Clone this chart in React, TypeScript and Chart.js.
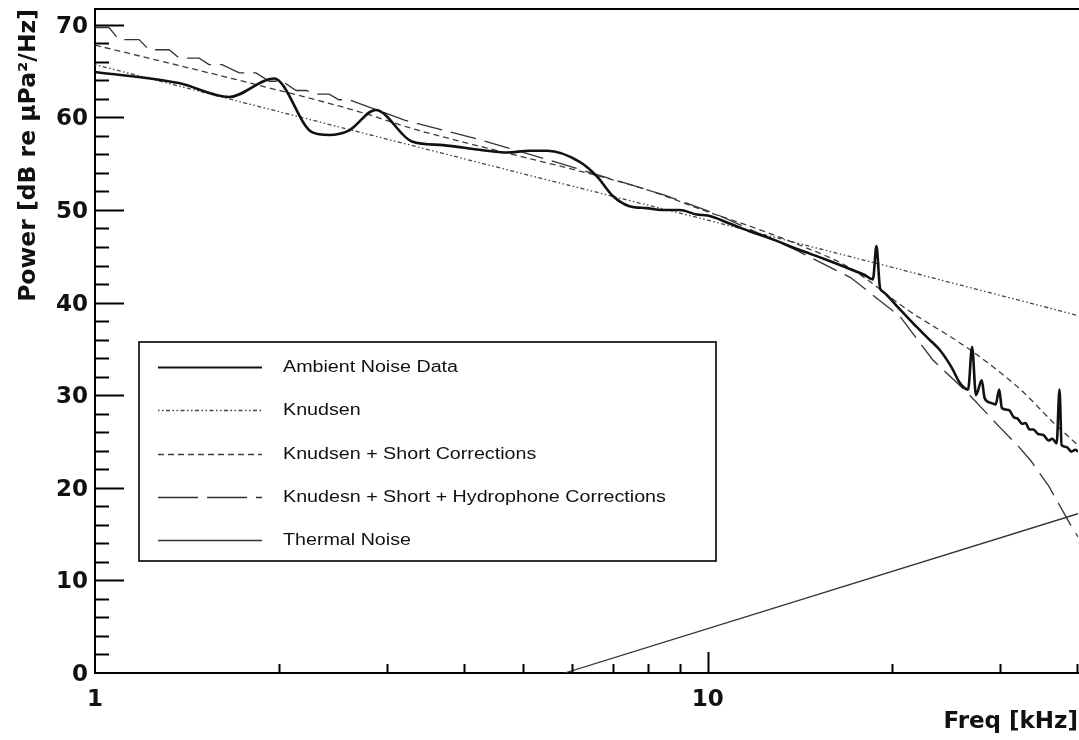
import React, { useEffect, useRef } from "react";
import { Chart, registerables } from "chart.js";

Chart.register(...registerables);

// ---------- data (frequency in kHz, power in dB re µPa²/Hz) ----------
const ambientFreq = [
  1.0, 1.37, 1.656, 1.96, 2.26, 2.41, 2.6, 2.87, 3.29, 3.7, 4.24, 4.7, 5.12, 5.47, 6.18, 6.6, 7.0, 7.45,
  7.94, 8.46, 9.0, 9.6, 10.0, 10.8, 11.7, 12.8, 14.1, 15.5, 17.1, 18.0, 18.6, 18.85, 19.1, 19.3, 20.5,
  21.9, 23.0, 23.9, 25.0, 25.8, 26.6, 27.0, 27.4, 28.0, 28.3, 28.9, 29.5, 29.9, 30.2, 31.0, 31.6, 32.0,
  32.6, 33.0, 33.5, 34.0, 34.6, 35.3, 36.0, 36.5, 37.1, 37.5, 37.8, 38.5, 39.2, 39.8, 40.2,
];
const ambientPower = [
  64.9, 63.7, 62.2, 64.2, 58.4, 58.1, 58.6, 60.8, 57.4, 57.0, 56.5, 56.2, 56.4, 56.4, 55.2, 53.6, 51.5, 50.4,
  50.2, 50.0, 50.0, 49.5, 49.4, 48.6, 47.7, 46.8, 45.7, 44.7, 43.6, 43.0, 42.5, 46.1, 41.6, 41.2, 39.4,
  37.4, 36.0, 34.9, 33.0, 31.3, 30.6, 35.2, 30.0, 31.6, 29.7, 29.2, 29.0, 30.6, 28.6, 28.4, 27.6, 27.5,
  26.9, 27.0, 26.3, 26.3, 25.8, 25.7, 25.1, 25.3, 24.8, 30.6, 24.6, 24.4, 23.9, 24.1, 23.9,
];

const knudsenFreq = [1, 2, 5, 10, 20, 40.2];
const knudsenPower = [65.7, 60.6, 53.9, 48.9, 43.8, 38.6];

const shortFreq = [1, 1.92, 2.7, 3.29, 4.8, 6.18, 7.94, 10, 12, 14, 17, 21.2, 26.8, 32.4, 36.7, 40.2];
const shortPower = [67.8, 63.2, 60.6, 58.8, 56.0, 54.2, 52.2, 49.8, 48.0, 46.3, 43.8, 39.2, 34.9, 30.6, 27.0, 24.6];

const hydroFreq = [
  1.0, 1.054, 1.094, 1.18, 1.225, 1.321, 1.372, 1.479, 1.535, 1.612, 1.719, 1.831, 1.925, 2.02, 2.13, 2.21,
  2.3, 2.41, 2.5, 2.6, 3.2, 4.24, 5.5, 7.5, 8.5, 10.2, 14, 17.1, 20.6, 23.3, 26.5, 30, 32, 33.6, 36, 39.4, 40.2,
];
const hydroPower = [
  69.7, 69.7, 68.4, 68.4, 67.3, 67.3, 66.4, 66.4, 65.7, 65.7, 64.8, 64.8, 63.9, 63.9, 62.9, 62.9,
  62.5, 62.5, 61.9, 61.9, 59.7, 57.6, 55.4, 52.7, 51.6, 49.7, 45.6, 42.7, 38.5, 33.8, 30.3, 26.5, 24.6, 23.0, 20.2, 15.6, 14.7,
];

const thermalFreq = [5.84, 40.2];
const thermalPower = [0, 17.2];

const seriesLabels = [
  "Ambient Noise Data",
  "Knudsen",
  "Knudsen + Short Corrections",
  "Knudesn + Short + Hydrophone Corrections",
  "Thermal Noise",
];

const xLabelValues = [1, 10];
const xMinorTicks = [2, 3, 4, 5, 6, 7, 8, 9, 20, 30, 40];
const xMajorTicks = [10];
const yTickStep = 2;
const yLabelStep = 10;
const yMin = 0;
const yMax = 71.7;
const xMin = 1;
const xMax = 40.2;

function pts(fs: number[], vs: number[]) {
  return fs.map((f, i) => ({ x: f, y: vs[i] }));
}

const AXIS_FONT = "'DejaVu Sans', sans-serif";

const innerTicks = {
  id: "innerTicks",
  afterDraw(chart: any) {
    const { ctx, chartArea: a, scales } = chart;
    const xs = scales.x;
    const ys = scales.y;
    ctx.save();
    ctx.strokeStyle = "#000";
    ctx.lineWidth = 2;
    ctx.beginPath();
    ctx.moveTo(a.left - 1, a.top);
    ctx.lineTo(a.right + 2, a.top);
    ctx.stroke();
    for (let v = yMin + yTickStep; v <= yMax; v += yTickStep) {
      const py = Math.round(ys.getPixelForValue(v)) + 0.5;
      const len = v % yLabelStep === 0 ? 29 : 14;
      ctx.beginPath();
      ctx.moveTo(a.left, py);
      ctx.lineTo(a.left + len, py);
      ctx.stroke();
    }
    const drawX = (vals: number[], len: number) => {
      vals.forEach((v) => {
        const px = Math.round(xs.getPixelForValue(v)) + 0.5;
        ctx.beginPath();
        ctx.moveTo(px, a.bottom);
        ctx.lineTo(px, a.bottom - len);
        ctx.stroke();
      });
    };
    drawX(xMinorTicks, 9);
    drawX(xMajorTicks, 21);
    ctx.restore();
  },
};

const boxedLegend = {
  id: "boxedLegend",
  afterDatasetsDraw(chart: any) {
    const { ctx } = chart;
    const bx = 139;
    const by = 342;
    const bw = 577;
    const bh = 219;
    ctx.save();
    ctx.fillStyle = "#fff";
    ctx.fillRect(bx, by, bw, bh);
    ctx.strokeStyle = "#000";
    ctx.lineWidth = 1.6;
    ctx.strokeRect(bx, by, bw, bh);
    chart.data.datasets.forEach((ds: any, i: number) => {
      const cy = Math.round(367 + i * 43.25) + 0.5;
      ctx.beginPath();
      ctx.setLineDash(ds.legendDash || ds.borderDash || []);
      ctx.lineWidth = ds.legendWidth || ds.borderWidth;
      ctx.strokeStyle = ds.borderColor;
      ctx.moveTo(158, cy);
      ctx.lineTo(262, cy);
      ctx.stroke();
      ctx.setLineDash([]);
      ctx.save();
      ctx.translate(283, cy);
      ctx.scale(1.23, 1);
      ctx.font = "16px 'Liberation Sans', Arial, sans-serif";
      ctx.fillStyle = "#111";
      ctx.textBaseline = "middle";
      ctx.textAlign = "left";
      ctx.fillText(ds.label, 0, 0);
      ctx.restore();
    });
    ctx.restore();
  },
};

export default function App() {
  const canvasRef = useRef<HTMLCanvasElement | null>(null);

  useEffect(() => {
    if (!canvasRef.current) return;
    const common = { pointRadius: 0, tension: 0, fill: false };
    const chart = new Chart(canvasRef.current, {
      type: "line",
      data: {
        datasets: [
          {
            ...common,
            label: seriesLabels[0],
            data: pts(ambientFreq, ambientPower),
            borderColor: "#111111",
            borderWidth: 2.6,
            cubicInterpolationMode: "monotone",
            legendWidth: 2,
          } as any,
          {
            ...common,
            label: seriesLabels[1],
            data: pts(knudsenFreq, knudsenPower),
            borderColor: "#444444",
            borderWidth: 1.3,
            borderDash: [1.5, 2.5, 1.5, 2.5, 4, 2.5],
          } as any,
          {
            ...common,
            label: seriesLabels[2],
            data: pts(shortFreq, shortPower),
            borderColor: "#3c3c3c",
            borderWidth: 1.3,
            borderDash: [6, 4],
            cubicInterpolationMode: "monotone",
          } as any,
          {
            ...common,
            label: seriesLabels[3],
            data: pts(hydroFreq, hydroPower),
            borderColor: "#333333",
            borderWidth: 1.3,
            borderDash: [26, 9],
            legendDash: [40, 9, 40, 9, 6, 100],
          } as any,
          {
            ...common,
            label: seriesLabels[4],
            data: pts(thermalFreq, thermalPower),
            borderColor: "#333333",
            borderWidth: 1.3,
            legendWidth: 1.6,
          } as any,
        ],
      },
      options: {
        animation: false,
        responsive: false,
        devicePixelRatio: 1,
        layout: { padding: { left: 0, right: 1, top: 9, bottom: 0 } },
        plugins: {
          legend: { display: false },
          tooltip: { enabled: false },
        },
        scales: {
          x: {
            type: "logarithmic",
            min: xMin,
            max: xMax,
            grid: { display: false, drawTicks: false },
            border: { display: true, color: "#000", width: 2 },
            ticks: {
              autoSkip: false,
              maxRotation: 0,
              padding: 13,
              color: "#111",
              font: { family: AXIS_FONT, weight: "bold", size: 23 },
              callback: (v: any) => (xLabelValues.includes(Number(v)) ? String(v) : ""),
            },
            title: {
              display: true,
              text: "Freq [kHz]",
              align: "end",
              color: "#111",
              font: { family: AXIS_FONT, weight: "bold", size: 23 },
              padding: { top: 0, bottom: 4 },
            },
            afterFit: (s: any) => {
              s.height = 67;
              s.paddingLeft = 0;
              s.paddingRight = 0;
            },
          },
          y: {
            type: "linear",
            min: yMin,
            max: yMax,
            grid: { display: false, drawTicks: false },
            border: { display: true, color: "#000", width: 2 },
            ticks: {
              stepSize: yLabelStep,
              includeBounds: false,
              padding: 7,
              labelOffset: 2,
              color: "#111",
              font: { family: AXIS_FONT, weight: "bold", size: 23 },
              callback: (v: any) => (Number(v) % yLabelStep === 0 ? String(v) : ""),
            },
            title: {
              display: true,
              text: "Power [dB re μPa²/Hz]",
              align: "end",
              color: "#111",
              font: { family: AXIS_FONT, weight: "bold", size: 23.5 },
              padding: { top: 15, bottom: 0 },
            },
            afterFit: (s: any) => {
              s.width = 95;
              s.paddingTop = 0;
              s.paddingBottom = 0;
            },
          },
        },
      } as any,
      plugins: [innerTicks, boxedLegend],
    });
    return () => chart.destroy();
  }, []);

  return (
    <div style={{ position: "absolute", left: 0, top: 0, width: 1079, height: 740, overflow: "hidden", background: "#fff" }}>
      <canvas ref={canvasRef} width={1079} height={740} style={{ width: 1079, height: 740, display: "block" }} />
    </div>
  );
}
